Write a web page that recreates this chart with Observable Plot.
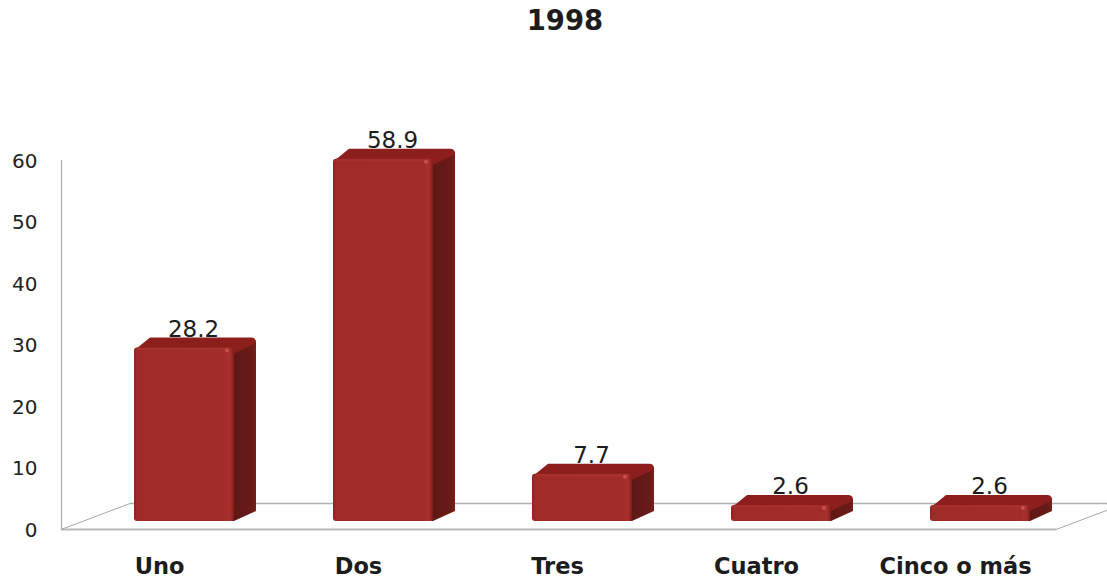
<!DOCTYPE html>
<html><head><meta charset="utf-8">
<script src="https://cdn.jsdelivr.net/npm/d3@7"></script>
<script src="https://cdn.jsdelivr.net/npm/@observablehq/plot@0.6"></script>
<style>
html,body{margin:0;padding:0;background:#fff;overflow:hidden}
#title{box-sizing:border-box;width:1107px;height:42px;text-align:center;padding-left:23px;font:bold 27.5px/40px "DejaVu Sans",sans-serif;color:#1c1c1c}
svg{display:block}
</style></head><body>
<div id="title">1998</div>
<div id="chart"></div>
<script>
const categories = ["Uno","Dos","Tres","Cuatro","Cinco o más"];
const values = [28.2,58.9,7.7,2.6,2.6];
const yTicks = [0,10,20,30,40,50,60];
const table = categories.map((c,i)=>({c,v:values[i]}));

const DX=22, DY=10;
function bars3d(index,scales,vals,dim,ctx,next){
  const g=next(index,scales,vals,dim,ctx);
  const sel=d3.select(g);
  const rects=Array.from(g.querySelectorAll("rect"));
  rects.forEach(r=>{
    const x=+r.getAttribute("x"),y=+r.getAttribute("y"),w=+r.getAttribute("width"),h=+r.getAttribute("height");
    const side=`M${x+w-2},${y+2}L${x+w+DX},${y-DY+3}L${x+w+DX},${y+h-DY}L${x+w},${y+h}L${x+w-2},${y+h}Z`;
    const top=`M${x},${y+6}Q${x},${y+1} ${x+5},${y-1}L${x+DX-6},${y-DY}L${x+w+DX-5},${y-DY}Q${x+w+DX},${y-DY} ${x+w+DX},${y-DY+5}L${x+w+DX-3},${y-DY+7}L${x+w},${y+6}Z`;
    g.insertBefore(sel.append("path").attr("d",side).attr("fill","url(#sideGrad)").attr("stroke","none").node(),r);
    g.insertBefore(sel.append("path").attr("d",top).attr("fill","#8c1f1c").attr("stroke","none").node(),r);
    sel.append("path").attr("d",`M${x+3},${y+1.5}L${x+w-6},${y+1.5}`).attr("stroke","#ad332e").attr("stroke-width",2).attr("stroke-opacity",0.7).attr("fill","none");
    sel.append("circle").attr("cx",x+w-7).attr("cy",y+3).attr("r",2).attr("fill","#c9504a").attr("stroke","none");
  });
  return g;
}
function floor(index,scales,vals,dim,ctx,next){
  const g=next(index,scales,vals,dim,ctx);
  const l=g.querySelector("line");
  const x1=+l.getAttribute("x1"),x2=+l.getAttribute("x2"),y=+l.getAttribute("y1");
  [x1,x2].forEach(x=>d3.select(g).append("line")
    .attr("x1",x).attr("y1",y).attr("x2",x+69).attr("y2",y-26)
    .attr("stroke","#a8a8a8").attr("stroke-width",1));
  return g;
}

const plot = Plot.plot({
  width:1107, height:539,
  marginLeft:61, marginRight:51, marginTop:118, marginBottom:52,
  x:{domain:categories, paddingInner:0.5, paddingOuter:0.25, label:null},
  y:{domain:[0,60], label:null},
  style:{background:"#fff",overflow:"hidden"},
  marks:[
    Plot.frame({anchor:"left",stroke:"#b0b0b0",strokeWidth:1.2}),
    Plot.ruleY([0],{dx:69,dy:-26,stroke:"#b0b0b0",strokeWidth:1.3}),
    Plot.ruleY([0],{stroke:"#b8b8b8",strokeWidth:1.8,render:floor}),
    Plot.axisY({ticks:yTicks,tickSize:0,tickPadding:24,fontSize:20,fill:"#222",fontFamily:"DejaVu Sans",label:null,dy:1}),
    Plot.axisX({tickSize:0,tickPadding:29,fontSize:22.5,fontWeight:"bold",fill:"#1c1c1c",fontFamily:"DejaVu Sans",label:null,dx:-2}),
    Plot.text(table,{x:"c",y:"v",text:d=>d.v.toFixed(1),dx:32,dy:-26.5,fontSize:23,fill:"#1c1c1c",fontFamily:"DejaVu Sans"}),
    Plot.barY(table,{x:"c",y:"v",dx:23,dy:-8,rx:3,fill:"url(#frontGrad)",render:bars3d})
  ]
});
const defs=d3.select(plot).insert("defs",":first-child");
const f=defs.append("linearGradient").attr("id","frontGrad");
[[0,"#8f2320"],[0.03,"#a02b28"],[0.9,"#a22c29"],[0.96,"#a9302c"],[1,"#7c1e1b"]].forEach(s=>f.append("stop").attr("offset",s[0]).attr("stop-color",s[1]));
const s=defs.append("linearGradient").attr("id","sideGrad");
[[0,"#5e1815"],[0.85,"#691b18"],[1,"#7a201c"]].forEach(t=>s.append("stop").attr("offset",t[0]).attr("stop-color",t[1]));
document.getElementById("chart").append(plot);
</script>
</body></html>
